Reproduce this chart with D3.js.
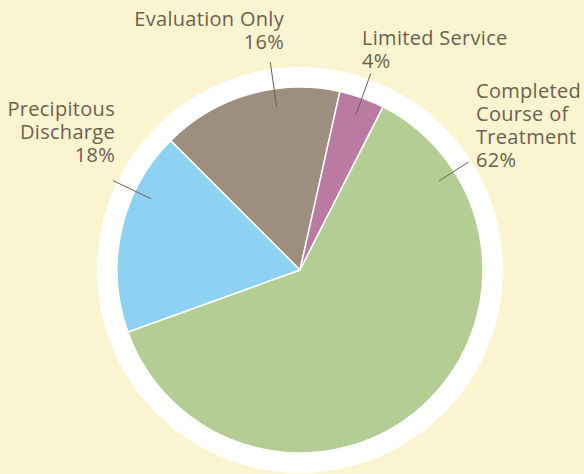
<!DOCTYPE html>
<html>
<head>
<meta charset="utf-8">
<script src="https://cdn.jsdelivr.net/npm/d3@7"></script>
<style>
  body { margin: 0; background: #FAF4D1; }
  svg { display: block; }
  text { font-family: "Open Sans", Lato, sans-serif; fill: #6F5F4E; font-size: 20px; letter-spacing: 0.3px; }
</style>
</head>
<body>
<div id="chart"></div>
<script>
// data
const categories = ["Evaluation Only", "Limited Service", "Completed Course of Treatment", "Precipitous Discharge"];
const shares = [16, 4, 62, 18];
const colors = ["#9E8E7F", "#B97BA1", "#B3CD94", "#8DD2F3"];
const labelLines = [
    ["Evaluation Only", "16%"],
    ["Limited Service", "4%"],
    ["Completed", "Course of", "Treatment", "62%"],
    ["Precipitous", "Discharge", "18%"]
];

// label layout (where leader sits within its slice, text anchor points)
const layout = [
    {at: 0.64, out: 210, x: 284, y: 26, anchor: "end"},
    {at: 0.5, out: 209, x: 362, y: 45, anchor: "start"},
    {at: 0.136, out: 200, x: 476, y: 98, anchor: "start"},
    {at: 0.70, out: 207, x: 115, y: 116, anchor: "end"}
];

const width = 584, height = 474;
const cx = 300, cy = 270;
const rOuter = 203, rPie = 183;
const lineH = 23;

const svg = d3.select("#chart").append("svg")
    .attr("width", width)
    .attr("height", height);

svg.append("rect")
    .attr("width", width)
    .attr("height", height)
    .attr("fill", "#FAF4D1");

let g = svg.append("g")
    .attr("transform", `translate(${cx}, ${cy})`);

g.append("circle")
    .attr("r", rOuter)
    .attr("fill", "#fff");

let pie = d3.pie()
    .sort(null)
    .value(d => d)
    .startAngle(-Math.PI / 4)
    .endAngle(-Math.PI / 4 + 2 * Math.PI);

let arcs = pie(shares);
let arc = d3.arc().innerRadius(0).outerRadius(rPie);

g.selectAll("path.slice")
    .data(arcs)
    .enter().append("path")
    .attr("class", "slice")
    .attr("d", arc)
    .attr("fill", (d, i) => colors[i])
    .attr("stroke", "#fff")
    .attr("stroke-width", 1.5)
    .attr("stroke-linejoin", "round");

// leader lines
let leaderAngle = (d, i) => d.startAngle + layout[i].at * (d.endAngle - d.startAngle);

g.selectAll("line.leader")
    .data(arcs)
    .enter().append("line")
    .attr("class", "leader")
    .attr("x1", (d, i) => 165 * Math.sin(leaderAngle(d, i)))
    .attr("y1", (d, i) => -165 * Math.cos(leaderAngle(d, i)))
    .attr("x2", (d, i) => layout[i].out * Math.sin(leaderAngle(d, i)))
    .attr("y2", (d, i) => -layout[i].out * Math.cos(leaderAngle(d, i)))
    .attr("stroke", "#6F5F4E")
    .attr("stroke-width", 1);

// labels
labelLines.forEach((lines, i) => {
    let t = svg.append("text")
        .attr("text-anchor", layout[i].anchor);
    lines.forEach((s, j) => {
        t.append("tspan")
            .attr("x", layout[i].x)
            .attr("y", layout[i].y + j * lineH)
            .text(s);
    });
});
</script>
</body>
</html>
